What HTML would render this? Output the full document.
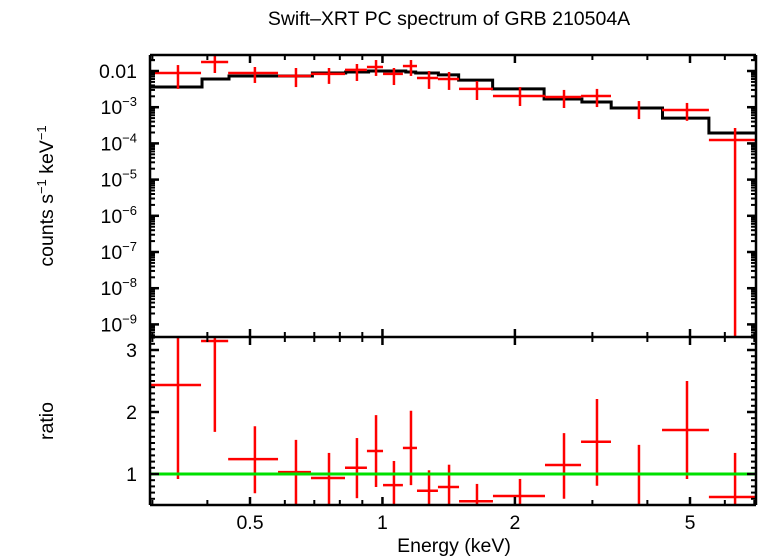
<!DOCTYPE html>
<html><head><meta charset="utf-8">
<style>
html,body{margin:0;padding:0;background:#fff;}
svg{display:block;font-family:"Liberation Sans",sans-serif;}
</style></head>
<body>
<svg id="chart" width="758" height="556" viewBox="0 0 758 556" xmlns="http://www.w3.org/2000/svg">
<text x="449" y="25" font-size="19.5" text-anchor="middle">Swift–XRT PC spectrum of GRB 210504A</text>
<text transform="translate(53,196) rotate(-90)" font-size="19.5" text-anchor="middle">counts s<tspan font-size="13" dy="-7">−1</tspan><tspan dy="7"> keV</tspan><tspan font-size="13" dy="-7">−1</tspan></text>
<text transform="translate(53,421) rotate(-90)" font-size="19.5" text-anchor="middle">ratio</text>
<text x="454" y="552" font-size="19.5" text-anchor="middle">Energy (keV)</text>
<g id="layer"></g>
</svg>
<script>
// data bins (keV)
const binLo = [0.296,0.387,0.446,0.579,0.688,0.822,0.922,1.003,1.113,1.198,1.337,1.493,1.783,2.341,2.827,3.828,4.319,5.52];
const binHi = [0.387,0.446,0.579,0.688,0.822,0.922,1.003,1.113,1.198,1.337,1.493,1.783,2.341,2.827,3.307,3.828,5.52,7.06];
const binCen = [0.343,0.416,0.513,0.636,0.756,0.875,0.967,1.062,1.161,1.276,1.417,1.64,2.054,2.586,3.073,3.828,4.922,6.33];
const counts = [8.8e-3,1.77e-2,8.8e-3,7.3e-3,8.3e-3,1.07e-2,1.29e-2,8.3e-3,1.37e-2,6.4e-3,6.0e-3,3.2e-3,2.04e-3,1.91e-3,2.04e-3,8.4e-4,8.4e-4,1.24e-4];
const countsLo = [3.2e-3,8.8e-3,4.67e-3,3.6e-3,4.4e-3,5.3e-3,7.3e-3,4.1e-3,7.3e-3,3.2e-3,3.0e-3,1.58e-3,1.08e-3,9.5e-4,1.01e-3,4.7e-4,4.2e-4,1e-12];
const countsHi = [1.46e-2,2.77e-2,1.29e-2,1.21e-2,1.21e-2,1.56e-2,2.01e-2,1.21e-2,2.01e-2,1e-2,9.4e-3,5.3e-3,3.6e-3,3.0e-3,3.2e-3,1.48e-3,1.31e-3,2.66e-4];
const ratio = [2.435,3.145,1.24,1.03,0.935,1.10,1.37,0.82,1.42,0.73,0.79,0.56,0.645,1.145,1.52,0.45,1.71,0.63];
const ratioLo = [0.92,1.68,0.69,0.45,0.45,0.61,0.79,0.45,0.82,0.45,0.45,0.45,0.45,0.6,0.81,0.45,0.92,0.45];
const ratioHi = [3.4,3.4,1.77,1.55,1.34,1.58,1.95,1.21,2.02,1.06,1.15,0.84,0.92,1.66,2.21,1.47,2.5,1.34];
// model steps
const modelEdges = [0.296,0.389,0.448,0.693,0.825,0.93,1.13,1.19,1.34,1.49,1.78,2.33,2.84,3.31,4.33,5.52,7.06];
const modelVals = [3.6e-3,6.0e-3,7.3e-3,8.8e-3,9.4e-3,1.0e-2,9.4e-3,8.8e-3,7.8e-3,5.6e-3,3.2e-3,1.69e-3,1.39e-3,9.5e-4,5.0e-4,1.94e-4];
// ticks
const xMajor = [0.5,1,2,5];
const xMinor = [0.3,0.4,0.6,0.7,0.8,0.9,3,4,6,7];
const yTopMajor = [-2,-3,-4,-5,-6,-7,-8,-9];
const yTopLabels = ["0.01","10|−3","10|−4","10|−5","10|−6","10|−7","10|−8","10|−9"];
const rMajor = [1,2,3];

const L=150,R=756,T1=55,B1=337,B2=505;
const NS="http://www.w3.org/2000/svg";
const g=document.getElementById('layer');
const xs=e=>250+440*Math.log10(e/0.5);
const ys=v=>{let y=71-36.2*(Math.log10(v)+2);return Math.max(T1,Math.min(B1,y));};
const yr=v=>{let y=474-62*(v-1);return Math.max(B1,Math.min(B2,y));};
function ln(x1,y1,x2,y2,c,w,name){const e=document.createElementNS(NS,'line');
e.setAttribute('x1',x1);e.setAttribute('y1',y1);e.setAttribute('x2',x2);e.setAttribute('y2',y2);
e.setAttribute('stroke',c);e.setAttribute('stroke-width',w);


g.appendChild(e);return e;}
function tx(x,y,s,anchor,name){const e=document.createElementNS(NS,'text');
e.setAttribute('x',x);e.setAttribute('y',y);e.setAttribute('font-size','19.5');e.setAttribute('text-anchor',anchor);
const p=s.split('|');e.textContent=p[0];
if(p[1]){const t=document.createElementNS(NS,'tspan');t.setAttribute('font-size','13');t.setAttribute('dy','-8');t.textContent=p[1];e.appendChild(t);}


g.appendChild(e);}

// model
let d='';
modelVals.forEach((v,i)=>{const x1=xs(modelEdges[i]),x2=Math.min(R,xs(modelEdges[i+1])),y=ys(v);
d+=(i===0?'M':'L')+x1+','+y+' L'+x2+','+y+' ';});
const mp=document.createElementNS(NS,'path');mp.setAttribute('d',d);mp.setAttribute('fill','none');mp.setAttribute('stroke','#000');mp.setAttribute('stroke-width','3');


g.appendChild(mp);
// data points
binCen.forEach((c,i)=>{
 const xc=xs(c),lo=xs(binLo[i]),hi=Math.min(R,xs(binHi[i]));
 if(i!==15) ln(lo,ys(counts[i]),hi,ys(counts[i]),'#f00',2.5,'data-point-xerr');
 ln(xc,ys(countsLo[i]),xc,ys(countsHi[i]),'#f00',2.5,'data-point-yerr');
 if(i!==15) ln(lo,yr(ratio[i]),hi,yr(ratio[i]),'#f00',2.5,'ratio-point-xerr');
 ln(xc,yr(ratioLo[i]),xc,yr(ratioHi[i]),'#f00',2.5,'ratio-point-yerr');
});
// unity line
ln(L,yr(1),R,yr(1),'#00e000',3,'ratio-unity-line');
// frames
[[L,T1,R,T1],[L,B1,R,B1],[L,B2,R,B2],[L,T1,L,B2],[R,T1,R,B2]].forEach(a=>ln(a[0],a[1],a[2],a[3],'#000',2.5,'axis-frame'));
// x ticks
xMajor.forEach(v=>{const x=xs(v);
 ln(x,T1,x,T1+8,'#000',2.5,'x-major-tick');ln(x,B1-8,x,B1+8,'#000',2.5,'x-major-tick');ln(x,B2,x,B2-8,'#000',2.5,'x-major-tick');
 tx(x,529,String(v),'middle','x-tick-label');});
xMinor.forEach(v=>{const x=xs(v);
 ln(x,T1,x,T1+5,'#000',2,'x-minor-tick');ln(x,B1-5,x,B1+5,'#000',2,'x-minor-tick');ln(x,B2,x,B2-5,'#000',2,'x-minor-tick');});
// y top ticks
yTopMajor.forEach((p,i)=>{const y=ys(Math.pow(10,p));
 ln(L,y,L+9,y,'#000',2.5,'y-major-tick');ln(R,y,R-9,y,'#000',2.5,'y-major-tick');
 tx(137,y+7,yTopLabels[i],'end','y-tick-label');
 for(let k=2;k<10;k++){const yy=ys(k*Math.pow(10,p));if(yy>T1&&yy<B1){ln(L,yy,L+5,yy,'#000',2,'y-minor-tick');ln(R,yy,R-5,yy,'#000',2,'y-minor-tick');}}
 if(p===-9){for(let k=2;k<10;k++){const yy=ys(k*1e-10);if(yy<B1){ln(L,yy,L+5,yy,'#000',2,'y-minor-tick');ln(R,yy,R-5,yy,'#000',2,'y-minor-tick');}}}
});
{const yy=ys(0.02);ln(L,yy,L+5,yy,'#000',2,'y-minor-tick');ln(R,yy,R-5,yy,'#000',2,'y-minor-tick');}
// ratio ticks
for(let v=0.6;v<3.25;v+=0.1){const y=yr(v);ln(L,y,L+5,y,'#000',2,'ratio-minor-tick');ln(R,y,R-5,y,'#000',2,'ratio-minor-tick');}
rMajor.forEach(v=>{const y=yr(v);ln(L,y,L+9,y,'#000',2.5,'ratio-major-tick');ln(R,y,R-9,y,'#000',2.5,'ratio-major-tick');
 tx(137,y+7,String(v),'end','ratio-tick-label');});
</script>
</body></html>
